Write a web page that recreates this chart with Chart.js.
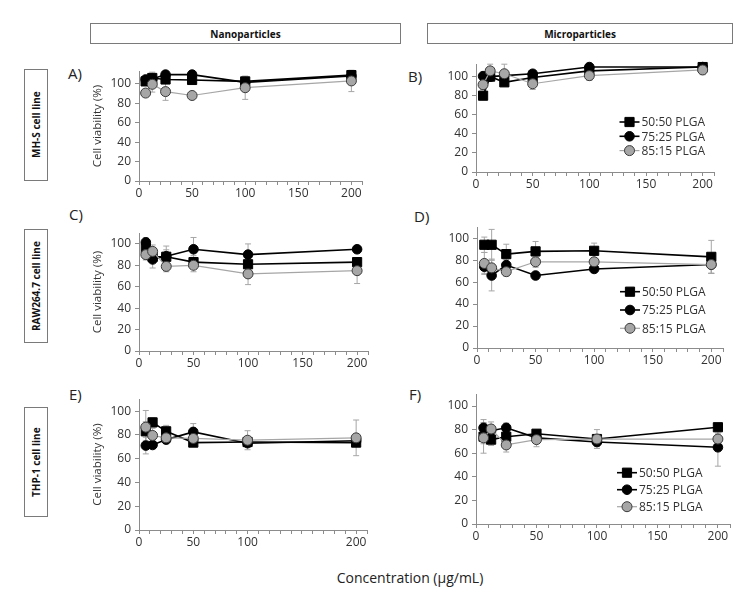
<!DOCTYPE html>
<html>
<head>
<meta charset="utf-8">
<script src="https://cdn.jsdelivr.net/npm/chart.js@4.4.0/dist/chart.umd.min.js"></script>
<style>
  body { margin: 0; background: #fff; font-family: 'Open Sans', sans-serif; }
  #page { position: relative; width: 743px; height: 598px; overflow: hidden; background: #fff; }
  .panel { position: absolute; }
  .colhead {
    position: absolute; box-sizing: border-box; border: 1px solid #7a7a7a;
    font-weight: bold; font-size: 10px; color: #111;
    display: flex; align-items: center; justify-content: center;
  }
  .rowhead {
    position: absolute; box-sizing: border-box; border: 1px solid #7a7a7a;
    font-weight: bold; font-size: 10px; color: #111;
    writing-mode: vertical-rl; transform: rotate(180deg);
    display: flex; align-items: center; justify-content: center;
  }
  .letter { position: absolute; font-size: 15px; color: #222; line-height: 1; }
  #xtitle { position: absolute; left: 0; width: 820px; top: 568px; text-align: center; font-size: 14px; color: #222; }
</style>
</head>
<body>
<div id="page">
  <div class="colhead" style="left:90px;top:23px;width:311px;height:21px;">Nanoparticles</div>
  <div class="colhead" style="left:427px;top:23px;width:306px;height:21px;">Microparticles</div>
  <div class="rowhead" style="left:24px;top:69px;width:24px;height:112px;">MH-S cell line</div>
  <div class="rowhead" style="left:24px;top:229px;width:24px;height:114px;">RAW264.7 cell line</div>
  <div class="rowhead" style="left:24px;top:407px;width:24px;height:110px;">THP-1 cell line</div>
  <div class="letter" style="left:68px;top:66px;">A)</div>
  <div class="letter" style="left:408px;top:69px;">B)</div>
  <div class="letter" style="left:69px;top:207px;">C)</div>
  <div class="letter" style="left:414px;top:209px;">D)</div>
  <div class="letter" style="left:69px;top:387px;">E)</div>
  <div class="letter" style="left:409px;top:387px;">F)</div>
  <div id="xtitle">Concentration (µg/mL)</div>
</div>
<script>
// concentrations tested (µg/mL)
const concentrations = [6.25, 12.5, 25, 50, 100, 200];
const seriesNames = ['50:50 PLGA', '75:25 PLGA', '85:15 PLGA'];
const yTickValues = [0, 20, 40, 60, 80, 100];
const xTickLabels = [0, 50, 100, 150, 200];
const xTickLabelsE = [0, 50, 100, 200];

// A) nanoparticles, MH-S
const aPlga5050 = [102.5, 106, 104.5, 104, 102.5, 109];
const aPlga7525 = [104.5, 105, 109.5, 109.5, 101.5, 108];
const aPlga8515 = [90.5, 99.5, 92, 88, 96, 103];
const aErr5050 = [3, 5, 3, 3, 4, 4];
const aErr7525 = [3, 7, 3, 3, 3, 3];
const aErr8515 = [3, 8, 9, 3, 12, 11];

// B) microparticles, MH-S
const bPlga5050 = [80, 100, 94, 99, 106, 110];
const bPlga7525 = [100.5, 100, 101, 103, 110, 110];
const bPlga8515 = [91.5, 106, 103, 92.5, 101, 107];
const bErr5050 = [4, 5, 3, 3, 3, 3];
const bErr7525 = [3, 4, 3, 3, 3, 3];
const bErr8515 = [5, 7, 10, 6, 5, 5];

// C) nanoparticles, RAW264.7
const cPlga5050 = [96, 88, 88, 83, 81, 83];
const cPlga7525 = [101.5, 85.5, 88.5, 95, 90, 95];
const cPlga8515 = [90, 93, 79, 80, 72, 75];
const cErr5050 = [4, 5, 10, 6, 3, 3];
const cErr7525 = [4, 8, 6, 11, 10, 3];
const cErr8515 = [5, 6, 5, 6, 10, 12];

// D) microparticles, RAW264.7
const dPlga5050 = [94, 94, 85.5, 88, 88.5, 83];
const dPlga7525 = [74, 66, 75.5, 66, 72, 76];
const dPlga8515 = [77, 73, 69.5, 78.5, 78.5, 76];
const dErr5050 = [7, 14, 9, 9, 7, 15];
const dErr7525 = [6, 14, 5, 3, 3, 8];
const dErr8515 = [10, 8, 4, 5, 3, 8];

// E) nanoparticles, THP-1
const ePlga5050 = [83, 90.5, 83, 73.5, 74, 73.5];
const ePlga7525 = [71, 71.5, 76, 82.5, 73, 75];
const ePlga8515 = [86.5, 79.5, 77.5, 77, 75.5, 77.5];
const eErr5050 = [8, 4, 5, 3, 3, 3];
const eErr7525 = [7, 3, 3, 7, 3, 3];
const eErr8515 = [14, 6, 5, 4, 8, 15];

// F) microparticles, THP-1
const fPlga5050 = [74, 71.5, 74, 76.5, 72, 82];
const fPlga7525 = [81.5, 79, 81.5, 73, 69.5, 65];
const fPlga8515 = [73, 80.5, 67, 71.5, 72, 72];
const fErr5050 = [6, 5, 5, 3, 4, 3];
const fErr7525 = [7, 5, 4, 3, 4, 16];
const fErr8515 = [13, 6, 6, 6, 8, 5];

const AXIS = '#8c8c8c';
const TEXT = '#333';
const FONT = "'Open Sans', sans-serif";

const seriesStyles = [
  { pointStyle: 'rect', radius: 6.5, fill: '#000', edge: '#000', line: '#000', width: 1.6, order: 3 },
  { pointStyle: 'circle', radius: 4.8, fill: '#000', edge: '#000', line: '#000', width: 1.6, order: 2 },
  { pointStyle: 'circle', radius: 5, fill: '#a6a6a6', edge: '#3a3a3a', line: '#a6a6a6', width: 1.2, order: 1 }
];

const errorBars = {
  id: 'errorBars',
  beforeDatasetsDraw(chart) {
    const ctx = chart.ctx;
    const ys = chart.scales.y;
    ctx.save();
    ctx.strokeStyle = '#a6a6a6';
    ctx.lineWidth = 1;
    chart.data.datasets.forEach((ds, i) => {
      const meta = chart.getDatasetMeta(i);
      meta.data.forEach((pt, j) => {
        const v = ds.data[j].y;
        const e = ds.errors[j];
        const top = ys.getPixelForValue(v + e);
        const bot = ys.getPixelForValue(v - e);
        ctx.beginPath();
        ctx.moveTo(pt.x, top); ctx.lineTo(pt.x, bot);
        ctx.moveTo(pt.x - 3, top); ctx.lineTo(pt.x + 3, top);
        ctx.moveTo(pt.x - 3, bot); ctx.lineTo(pt.x + 3, bot);
        ctx.stroke();
      });
    });
    ctx.restore();
  }
};

function drawMarker(ctx, style, r, x, y) {
  ctx.beginPath();
  if (style === 'rect') {
    const s = r * Math.SQRT1_2;
    ctx.rect(x - s, y - s, 2 * s, 2 * s);
  } else {
    ctx.arc(x, y, r, 0, Math.PI * 2);
  }
  ctx.fill();
  ctx.stroke();
}

const inlineLegend = {
  id: 'inlineLegend',
  afterDatasetsDraw(chart, args, opts) {
    if (!opts.show) return;
    const ctx = chart.ctx;
    chart.data.datasets.forEach((ds, i) => {
      const x = opts.x;
      const y = opts.y + i * opts.dy;
      ctx.save();
      ctx.strokeStyle = ds.borderColor;
      ctx.lineWidth = ds.borderWidth;
      ctx.beginPath();
      ctx.moveTo(x - 10, y); ctx.lineTo(x + 10, y);
      ctx.stroke();
      ctx.fillStyle = ds.pointBackgroundColor;
      ctx.strokeStyle = ds.pointBorderColor;
      ctx.lineWidth = 1;
      drawMarker(ctx, ds.pointStyle, ds.pointRadius, x, y);
      ctx.fillStyle = TEXT;
      ctx.font = '12px ' + FONT;
      ctx.textBaseline = 'middle';
      ctx.fillText(ds.label, x + 12, y + 1);
      ctx.restore();
    });
  }
};

const xMinorTicks = [];
for (let v = 0; v <= 210; v += 10) xMinorTicks.push(v);

const panels = [
  { series: [aPlga5050, aPlga7525, aPlga8515], errors: [aErr5050, aErr7525, aErr8515],
    yMax: 113, xLabels: xTickLabels, yTitle: true, area: { l: 139, t: 70, r: 362, b: 181 } },
  { series: [bPlga5050, bPlga7525, bPlga8515], errors: [bErr5050, bErr7525, bErr8515],
    yMax: 113, xLabels: xTickLabels, yTitle: false, area: { l: 476, t: 63, r: 714, b: 172 },
    legend: { x: 629.5, y: 122, dy: 14.3 } },
  { series: [cPlga5050, cPlga7525, cPlga8515], errors: [cErr5050, cErr7525, cErr8515],
    yMax: 110, xLabels: xTickLabels, yTitle: true, area: { l: 139, t: 232, r: 368, b: 351 } },
  { series: [dPlga5050, dPlga7525, dPlga8515], errors: [dErr5050, dErr7525, dErr8515],
    yMax: 110, xLabels: xTickLabels, yTitle: false, area: { l: 477, t: 226, r: 723, b: 348 },
    legend: { x: 630, y: 291.7, dy: 18.3 } },
  { series: [ePlga5050, ePlga7525, ePlga8515], errors: [eErr5050, eErr7525, eErr8515],
    yMax: 110, xLabels: xTickLabelsE, yTitle: true, area: { l: 139, t: 398, r: 367, b: 530 } },
  { series: [fPlga5050, fPlga7525, fPlga8515], errors: [fErr5050, fErr7525, fErr8515],
    yMax: 110, xLabels: xTickLabels, yTitle: false, area: { l: 476, t: 393, r: 730, b: 524 },
    legend: { x: 627, y: 472.7, dy: 17 } }
];

function makePanel(p) {
  const yW = p.yTitle ? 52 : 36;
  const padTop = 10, padRight = 14, xH = 24;
  const left = p.area.l - yW;
  const top = p.area.t - padTop;
  const width = p.area.r - left + padRight;
  const height = p.area.b - top + xH;

  const wrap = document.createElement('div');
  wrap.className = 'panel';
  wrap.style.left = left + 'px';
  wrap.style.top = top + 'px';
  wrap.style.width = width + 'px';
  wrap.style.height = height + 'px';
  const canvas = document.createElement('canvas');
  canvas.width = width;
  canvas.height = height;
  canvas.style.width = width + 'px';
  canvas.style.height = height + 'px';
  wrap.appendChild(canvas);
  document.getElementById('page').appendChild(wrap);

  const datasets = p.series.map((vals, i) => {
    const st = seriesStyles[i];
    return {
      label: seriesNames[i],
      data: concentrations.map((c, j) => ({ x: c, y: vals[j] })),
      errors: p.errors[i],
      borderColor: st.line,
      borderWidth: st.width,
      pointStyle: st.pointStyle,
      pointRadius: st.radius,
      pointBackgroundColor: st.fill,
      pointBorderColor: st.edge,
      pointBorderWidth: 1,
      tension: 0,
      clip: false,
      order: st.order
    };
  });

  new Chart(canvas, {
    type: 'line',
    data: { datasets },
    options: {
      responsive: false,
      animation: false,
      devicePixelRatio: 1,
      layout: { padding: { top: padTop, right: padRight, left: 0, bottom: 0 } },
      plugins: {
        legend: { display: false },
        tooltip: { enabled: false },
        inlineLegend: p.legend
          ? { show: true, x: p.legend.x - left, y: p.legend.y - top, dy: p.legend.dy }
          : { show: false }
      },
      scales: {
        x: {
          type: 'linear',
          min: 0,
          max: 210,
          afterBuildTicks: s => { s.ticks = xMinorTicks.map(v => ({ value: v })); },
          afterFit: s => { s.height = xH; },
          ticks: {
            autoSkip: false, maxRotation: 0, padding: 1, color: TEXT,
            font: { family: FONT, size: 12 },
            callback: v => (p.xLabels.includes(v) ? String(v) : '')
          },
          grid: { drawOnChartArea: false, drawTicks: true, tickLength: 4, color: AXIS },
          border: { color: AXIS, width: 1 }
        },
        y: {
          min: 0,
          max: p.yMax,
          afterBuildTicks: s => { s.ticks = yTickValues.map(v => ({ value: v })); },
          afterFit: s => { s.width = yW; },
          ticks: { padding: 4, color: TEXT, font: { family: FONT, size: 12 } },
          grid: { drawOnChartArea: false, drawTicks: true, tickLength: 4, color: AXIS },
          border: { color: AXIS, width: 1 },
          title: {
            display: p.yTitle, text: 'Cell viability (%)', color: TEXT,
            font: { family: FONT, size: 11.5 }, padding: { top: 4, bottom: 0 }
          }
        }
      }
    },
    plugins: [errorBars, inlineLegend]
  });
}

panels.forEach(makePanel);
</script>
</body>
</html>
